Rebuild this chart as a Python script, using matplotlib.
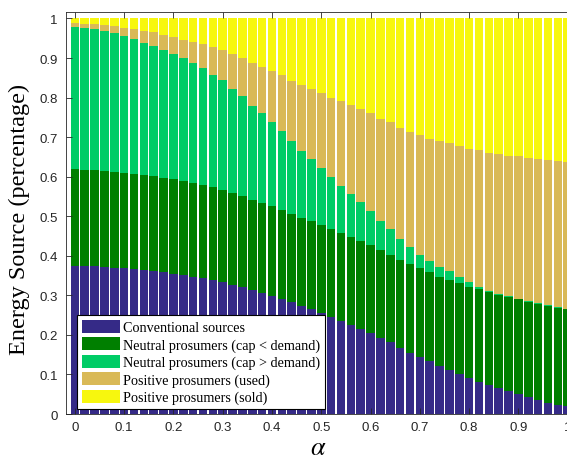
"""
Energy source split vs alpha — stacked bars, MATLAB-style look.
"""
import numpy as np
import matplotlib
matplotlib.use("Agg")
import matplotlib.pyplot as plt

# alpha steps 0, 0.02, ..., 1.0
ALPHA = [round(0.02 * i, 2) for i in range(51)]

CONVENTIONAL = [0.374, 0.374, 0.373, 0.372, 0.370, 0.368, 0.366, 0.363, 0.361, 0.358,
                0.355, 0.351, 0.347, 0.343, 0.338, 0.333, 0.327, 0.320, 0.313, 0.306,
                0.298, 0.290, 0.282, 0.273, 0.265, 0.255, 0.246, 0.236, 0.226, 0.216,
                0.205, 0.192, 0.181, 0.167, 0.155, 0.144, 0.134, 0.121, 0.110, 0.100,
                0.090, 0.080, 0.073, 0.065, 0.058, 0.050, 0.043, 0.035, 0.029, 0.024,
                0.019]
NEUTRAL_LOW = [0.245, 0.243, 0.243, 0.242, 0.241, 0.242, 0.240, 0.241, 0.240, 0.238,
               0.238, 0.238, 0.237, 0.236, 0.235, 0.234, 0.232, 0.231, 0.228, 0.227,
               0.227, 0.225, 0.223, 0.222, 0.222, 0.222, 0.221, 0.221, 0.221, 0.221,
               0.222, 0.222, 0.222, 0.223, 0.223, 0.224, 0.224, 0.226, 0.229, 0.230,
               0.232, 0.235, 0.235, 0.236, 0.239, 0.241, 0.241, 0.244, 0.245, 0.245,
               0.246]
NEUTRAL_HIGH = [0.360, 0.359, 0.357, 0.354, 0.352, 0.346, 0.342, 0.334, 0.330, 0.325,
                0.317, 0.310, 0.303, 0.295, 0.284, 0.278, 0.262, 0.252, 0.238, 0.227,
                0.212, 0.200, 0.185, 0.171, 0.157, 0.144, 0.131, 0.120, 0.109, 0.098,
                0.085, 0.073, 0.064, 0.052, 0.043, 0.034, 0.030, 0.025, 0.022, 0.016,
                0.012, 0.007, 0.004, 0.003, 0.001, 0.001, 0.001, 0.001, 0.001, 0.001,
                0.000]
POS_USED = [0.010, 0.011, 0.013, 0.015, 0.018, 0.021, 0.025, 0.030, 0.034, 0.038,
            0.042, 0.047, 0.054, 0.061, 0.070, 0.076, 0.089, 0.097, 0.109, 0.118,
            0.130, 0.142, 0.153, 0.166, 0.178, 0.191, 0.202, 0.214, 0.224, 0.236,
            0.248, 0.260, 0.270, 0.282, 0.291, 0.303, 0.308, 0.317, 0.323, 0.331,
            0.337, 0.345, 0.349, 0.353, 0.355, 0.359, 0.362, 0.364, 0.367, 0.369,
            0.372]
POS_SOLD = [0.011, 0.013, 0.014, 0.017, 0.019, 0.023, 0.027, 0.032, 0.035, 0.041,
            0.048, 0.054, 0.059, 0.065, 0.073, 0.079, 0.090, 0.100, 0.112, 0.122,
            0.133, 0.143, 0.157, 0.168, 0.178, 0.188, 0.200, 0.209, 0.220, 0.229,
            0.240, 0.253, 0.263, 0.276, 0.288, 0.295, 0.304, 0.311, 0.316, 0.323,
            0.329, 0.333, 0.339, 0.343, 0.347, 0.349, 0.353, 0.356, 0.358, 0.361,
            0.363]

LABELS = ["Conventional sources",
          "Neutral prosumers (cap < demand)",
          "Neutral prosumers (cap > demand)",
          "Positive prosumers (used)",
          "Positive prosumers (sold)"]
COLORS = ["#352a87", "#007f00", "#00cc66", "#d9b957", "#f7f70e"]

TICKS = [0, 0.1, 0.2, 0.3, 0.4, 0.5, 0.6, 0.7, 0.8, 0.9, 1]
TICK_LABELS = ["0", "0.1", "0.2", "0.3", "0.4", "0.5", "0.6", "0.7", "0.8", "0.9", "1"]

plt.rcParams["mathtext.fontset"] = "stix"

fig = plt.figure(figsize=(5.67, 4.56), dpi=100)
ax = fig.add_axes([0.1164, 0.0899, 0.9005, 0.8822])

x = np.array(ALPHA)
bottom = np.zeros(len(x))
for vals, lab, col in zip([CONVENTIONAL, NEUTRAL_LOW, NEUTRAL_HIGH, POS_USED, POS_SOLD],
                          LABELS, COLORS):
    v = np.array(vals)
    ax.bar(x, v, width=0.0175, bottom=bottom, color=col, label=lab, linewidth=0)
    bottom += v

ax.set_xlim(-0.018, 1.018)
ax.set_ylim(0, 1.017)
ax.set_xticks(TICKS); ax.set_xticklabels(TICK_LABELS)
ax.set_yticks(TICKS); ax.set_yticklabels(TICK_LABELS)
for lab in ax.get_xticklabels() + ax.get_yticklabels():
    lab.set_family("Liberation Sans"); lab.set_fontsize(9.5)
ax.tick_params(direction="in", length=4, width=0.6, color="#262626", top=True, right=True,
               labelcolor="#262626")
ax.tick_params(axis="x", pad=5)
ax.tick_params(axis="y", pad=6)
for s in ax.spines.values():
    s.set_color("#262626"); s.set_linewidth(0.6)

ax.set_ylabel("Energy Source (percentage)", family="Liberation Serif", fontsize=17.5)
ax.yaxis.set_label_coords(-0.07, 0.487)
ax.set_xlabel(r"$\alpha$", fontsize=19)
ax.xaxis.set_label_coords(0.494, -0.05)

leg = ax.legend(loc="lower left", bbox_to_anchor=(0.022, 0.012), prop={"family": "Liberation Serif", "size": 10.2},
                handlelength=2.7, handleheight=1.0, labelspacing=0.22, handletextpad=0.2,
                borderpad=0.35, borderaxespad=0, fancybox=False, framealpha=1)
leg.get_frame().set_edgecolor("black")
leg.get_frame().set_linewidth(0.8)

fig.savefig("out.png", dpi=100)
